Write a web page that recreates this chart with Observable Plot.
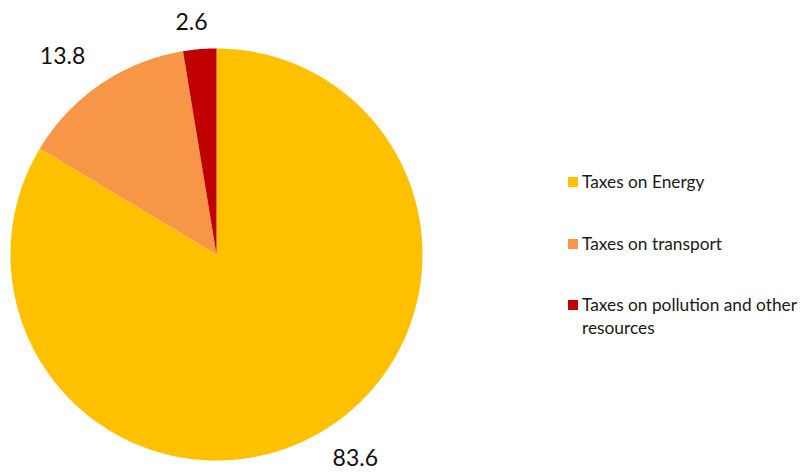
<!DOCTYPE html>
<html>
<head>
<meta charset="utf-8">
<script src="https://cdn.jsdelivr.net/npm/d3@7"></script>
<script src="https://cdn.jsdelivr.net/npm/@observablehq/plot@0.6"></script>
<style>
  html, body { margin: 0; padding: 0; background: #fff; }
  #wrap { position: relative; width: 803px; height: 474px; font-family: Lato, "Open Sans", sans-serif; }
  #legend { position: absolute; left: 568px; top: 0; width: 235px; }
  .item { position: absolute; left: 0; display: flex; align-items: flex-start; font-size: 17.3px; color: #1a1a1a; line-height: 23px; white-space: nowrap; }
  .item .t { white-space: normal; }
  .sw { width: 10px; height: 10px; margin-top: 7px; margin-right: 4px; flex: none; }
</style>
</head>
<body>
<div id="wrap">
  <div id="chart"></div>
  <div id="legend"></div>
</div>
<script>
const categories = ["Taxes on Energy", "Taxes on transport", "Taxes on pollution and other resources"];
const values = [83.6, 13.8, 2.6];
const labels = ["83.6", "13.8", "2.6"];
const colors = ["#FFC000", "#F79646", "#C00000"];

const W = 803, H = 474, cx = 216, cy = 254, R = 206;

const pie = d3.pie().sort(null).value(d => d)(values);

// polygon points for each slice (unit radius coords, angle clockwise from top)
const pts = [];
pie.forEach((p, i) => {
  pts.push({k: i, x: 0, y: 0});
  const n = Math.max(2, Math.ceil((p.endAngle - p.startAngle) / (Math.PI / 360)));
  for (let j = 0; j <= n; j++) {
    const a = p.startAngle + (p.endAngle - p.startAngle) * j / n;
    pts.push({k: i, x: Math.sin(a), y: Math.cos(a)});
  }
  pts.push({k: i, x: 0, y: 0});
});

// label placement: radial distance plus small pixel nudges (style only)
const labelR = [1.2, 1.2, 1.13];
const nudge = [[17, -11], [-15, 7], [-6, 0]];
const lab = pie.map((p, i) => {
  const a = (p.startAngle + p.endAngle) / 2;
  return {x: Math.sin(a) * labelR[i] + nudge[i][0] / R, y: Math.cos(a) * labelR[i] - nudge[i][1] / R, t: labels[i]};
});

const chart = Plot.plot({
  width: W, height: H,
  margin: 0,
  x: {domain: [-cx / R, (W - cx) / R], axis: null},
  y: {domain: [-(H - cy) / R, cy / R], axis: null},
  style: {background: "white"},
  marks: [
    Plot.line(pts, {x: "x", y: "y", z: "k", fill: d => colors[d.k], stroke: "none", curve: "linear"}),
    Plot.text(lab, {x: "x", y: "y", text: "t", fontSize: 23, fill: "#111", fontFamily: "Lato, 'Open Sans', sans-serif"})
  ]
});
document.getElementById("chart").appendChild(chart);

const legTops = [170, 232, 293];
const leg = document.getElementById("legend");
categories.forEach((c, i) => {
  const d = document.createElement("div");
  d.className = "item";
  d.style.top = legTops[i] + "px";
  d.style.width = "235px";
  d.innerHTML = `<span class="sw" style="background:${colors[i]}"></span><span class="t">${c}</span>`;
  leg.appendChild(d);
});
</script>
</body>
</html>
